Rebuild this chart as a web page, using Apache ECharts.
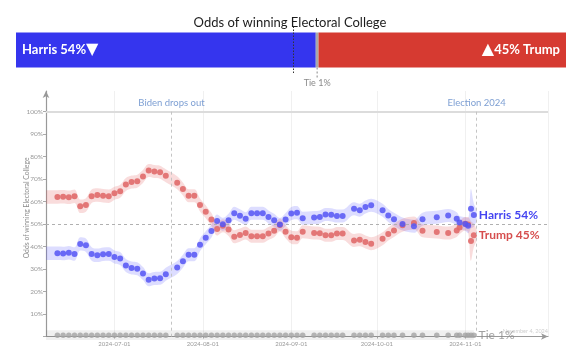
<!DOCTYPE html>
<html><head><meta charset="utf-8">
<script src="https://cdn.jsdelivr.net/npm/echarts@6/dist/echarts.min.js"></script>
<style>html,body{margin:0;padding:0;background:#fff}#c{width:580px;height:361px}</style>
</head><body><div id="c"></div>
<script>
// ---- data ----
const dates = ['2024-06-11','2024-06-13','2024-06-15','2024-06-17','2024-06-19','2024-06-21','2024-06-23','2024-06-25','2024-06-27','2024-06-29',
  '2024-07-01','2024-07-03','2024-07-05','2024-07-07','2024-07-09','2024-07-11','2024-07-13','2024-07-15','2024-07-17','2024-07-19',
  '2024-07-23','2024-07-25','2024-07-27','2024-07-29','2024-07-31',
  '2024-08-02','2024-08-04','2024-08-06','2024-08-08','2024-08-10','2024-08-12','2024-08-14','2024-08-16','2024-08-18','2024-08-20','2024-08-22','2024-08-24','2024-08-26','2024-08-28','2024-08-30',
  '2024-09-01','2024-09-03','2024-09-05','2024-09-09','2024-09-11','2024-09-13','2024-09-15','2024-09-17','2024-09-19','2024-09-23','2024-09-25','2024-09-27','2024-09-29',
  '2024-10-03','2024-10-05','2024-10-07','2024-10-10','2024-10-14','2024-10-17','2024-10-22','2024-10-26','2024-10-29','2024-10-30',
  '2024-11-01','2024-11-02','2024-11-03','2024-11-04'];
const harris = [37.0,36.9,37.3,36.7,41.2,40.6,36.7,36.1,36.6,36.7,
  35.4,34.7,31.6,30.5,30.1,28.0,25.2,25.8,25.9,27.7,
  30.7,33.5,36.4,36.4,40.8,
  43.9,46.9,51.4,49.9,51.7,54.8,53.7,52.4,54.8,54.8,54.8,53.2,51.7,49.8,52.0,
  54.7,55.1,52.6,52.9,53.2,54.3,54.1,53.6,53.6,56.8,56.2,57.6,58.4,
  56.2,53.8,52.1,50.0,49.0,52.2,53.0,53.8,52.4,50.7,
  50.0,49.3,56.8,54.0];
const trump = [62.1,62.2,61.9,62.4,57.9,58.5,62.4,62.9,62.6,62.4,
  63.7,64.6,67.6,68.7,69.1,71.2,73.8,73.4,73.1,71.5,
  68.4,65.6,62.6,62.6,58.5,
  55.5,52.0,47.8,49.3,47.6,44.4,45.1,46.0,44.6,44.6,44.6,45.8,47.0,49.6,46.6,
  44.2,43.9,46.6,46.0,45.9,45.0,45.0,45.8,45.8,42.7,43.0,42.0,41.3,
  43.5,45.6,47.2,49.5,50.5,47.0,46.5,46.0,47.2,48.5,
  50.2,49.8,42.5,45.0];
const tie = [0.6,0.6,0.6,0.6,0.6,0.6,0.6,0.6,0.6,0.6,
  0.6,0.6,0.6,0.6,0.6,0.6,0.6,0.6,0.6,0.6,
  0.6,0.6,0.6,0.6,0.6,
  0.6,0.6,0.6,0.6,0.6,0.6,0.6,0.6,0.6,0.6,0.6,0.6,0.6,0.6,0.6,
  0.6,0.6,0.6,0.6,0.6,0.6,0.6,0.6,0.6,0.6,0.6,0.6,0.6,
  0.6,0.6,0.6,0.6,0.6,0.6,0.6,0.6,0.6,0.6,
  0.6,0.6,0.6,0.6];
// half-width of the shaded uncertainty band around each point
const bandHalf = [3.0,3.0,3.0,3.0,3.0,3.0,3.0,3.0,3.0,3.0,
  2.9,2.9,2.9,2.9,2.9,2.9,2.9,2.9,2.9,2.9,
  2.9,2.9,2.9,2.9,2.9,
  2.9,2.9,2.9,2.9,2.9,2.9,2.9,2.9,2.9,2.9,2.9,2.9,2.9,2.9,2.9,
  2.9,2.9,2.9,2.9,2.9,2.9,2.9,2.9,2.9,2.9,2.9,2.9,2.9,
  2.9,2.9,2.9,2.9,2.9,2.9,2.9,2.9,2.9,2.9,
  3.0,3.4,8.8,5.2];
const tieBandHalf = 2.2;
const bandStart = '2024-06-07';
const bandEnd = '2024-11-05';
const bandEndHalf = 2.5;
const axisMin = '2024-06-07';
const axisMax = '2024-11-30';
const events = [['2024-07-21', 'Biden drops out'], ['2024-11-05', 'Election 2024']];
const endLabels = ['Harris 54%', 'Trump 45%', 'Tie 1%'];
const topShares = [54.5, 0.5, 45];
const topLabels = [['Harris 54%', '\u25BC'], ['\u25B2', '45% Trump']];
const topMarker = 50.4;
const tieTopLabel = 'Tie 1%';
const updatedLabel = 'November 4, 2024';
const titleText = 'Odds of winning Electoral College';
const yName = 'Odds of winning Electoral College';

// ---- styles ----
const FONT = 'Lato';
const BLUE = '#5555f4', RED = '#e06a6a', GRAY = '#a4a4a4';
const n = dates.length;

function band(stackName, vals, half, color, extend, endVal, clip) {
  const pts = [[bandStart, vals[0], half[0]]];
  dates.forEach((d, i) => pts.push([d, vals[i], half[i]]));
  if (extend) pts.push([bandEnd, endVal, bandEndHalf]);
  const common = {type: 'line', stack: stackName, stackStrategy: 'all', symbol: 'none', silent: true,
    smooth: 0.35, lineStyle: {opacity: 0, width: 0}, z: 1, clip: clip, xAxisIndex: 0, yAxisIndex: 0};
  return [
    Object.assign({}, common, {data: pts.map(p => [p[0], p[1] - p[2]])}),
    Object.assign({}, common, {data: pts.map(p => [p[0], 2 * p[2]]), areaStyle: {color: color, opacity: 1}})
  ];
}

const chart = echarts.init(document.getElementById('c'), null, {renderer: 'canvas'});

const endLabel = (idx, color, size) => ({
  show: true, position: 'right', distance: 2,
  formatter: p => p.dataIndex === n - 1 ? endLabels[idx] : '',
  color: color, fontSize: size, fontFamily: FONT, fontWeight: 'bold'
});

const triRich = {
  t: {color: '#fff', fontSize: 13, fontWeight: 'bold', fontFamily: FONT},
  g: {color: '#fff', fontSize: 16, fontFamily: 'DejaVu Sans', padding: [0, 0, 1, 0]}
};

const option = {
  animation: false,
  backgroundColor: '#fff',
  textStyle: {fontFamily: FONT},
  title: {text: titleText, left: 'center', top: 11,
    textStyle: {fontFamily: FONT, fontSize: 13, fontWeight: 'normal', color: '#1c1c1c'}},
  grid: [
    {left: 46, right: 32, top: 91, bottom: 24.5, outerBoundsMode: 'none', containLabel: false},
    {left: 16, right: 14, top: 27, height: 46, outerBoundsMode: 'none', containLabel: false}
  ],
  xAxis: [
    {type: 'time', gridIndex: 0, min: axisMin, max: axisMax,
      splitNumber: 5,
      axisLine: {show: true, symbol: ['none', 'arrow'], symbolSize: [5, 7], lineStyle: {color: '#999', width: 1.2}},
      axisTick: {show: true, length: 2, lineStyle: {color: '#aaa'}},
      axisLabel: {fontSize: 6, color: '#999', margin: 5, fontFamily: FONT, hideOverlap: false,
        formatter: v => echarts.format.formatTime('yyyy-MM-dd', v)},
      splitLine: {show: true, lineStyle: {color: '#f0f0f0', width: 1}},
      minorTick: {show: false}},
    {type: 'value', gridIndex: 1, min: 0, max: 100, show: false}
  ],
  yAxis: [
    {type: 'value', gridIndex: 0, min: 0, max: 109.2, interval: 10,
      axisLine: {show: true, symbol: ['none', 'arrow'], symbolSize: [5, 7], lineStyle: {color: '#999', width: 1.2}},
      axisTick: {show: true, length: 3, lineStyle: {color: '#aaa'}},
      axisLabel: {fontSize: 6.5, color: '#999', margin: 3, fontFamily: FONT, showMaxLabel: false,
        formatter: v => (v > 0 && v <= 100) ? v + '%' : ''},
      splitLine: {show: false}},
    {type: 'category', gridIndex: 1, data: ['odds'], show: false}
  ],
  series: [
    ...band('tb', tie, tie.map(() => tieBandHalf), 'rgba(0,0,0,0.06)', false, 0, false),
    ...band('hb', harris, bandHalf, 'rgba(85,85,255,0.2)', true, harris[n - 1], true),
    ...band('rb', trump, bandHalf, 'rgba(225,80,80,0.2)', true, trump[n - 1], true),
    {type: 'scatter', name: 'Tie', data: dates.map((d, i) => [d, tie[i]]), symbolSize: 5.5,
      itemStyle: {color: GRAY}, z: 3, clip: false,
      label: Object.assign(endLabel(2, '#8a8a8a', 12), {fontWeight: 'normal'})},
    {type: 'scatter', name: 'Trump', data: dates.map((d, i) => [d, trump[i]]), symbolSize: 6,
      itemStyle: {color: RED, opacity: 0.9}, z: 4, label: endLabel(1, '#d23b3b', 12)},
    {type: 'scatter', name: 'Harris', data: dates.map((d, i) => [d, harris[i]]), symbolSize: 6,
      itemStyle: {color: BLUE, opacity: 0.85}, z: 5, label: endLabel(0, '#2323ee', 12),
      markLine: {silent: true, symbol: 'none', animation: false,
        data: [
          {yAxis: 100, lineStyle: {type: 'solid', color: '#dcdcdc', width: 2}, label: {show: false}},
          {yAxis: 50, lineStyle: {type: [3, 3], color: '#b0b0b0', width: 1}, label: {show: false}},
          ...events.map(e => [
            {xAxis: e[0], yAxis: 100, lineStyle: {type: [3, 3], color: '#c4c4c4', width: 1},
              label: {show: true, position: 'start', distance: 4, formatter: e[1], color: '#7d9fd3',
                fontSize: 9.5, fontFamily: FONT}},
            {xAxis: e[0], yAxis: 0}
          ])
        ]}},
    // top summary bar
    {type: 'bar', xAxisIndex: 1, yAxisIndex: 1, stack: 'top', data: [topShares[0]], barWidth: 35,
      itemStyle: {color: '#3535ee'}, silent: true,
      label: {show: true, position: 'insideLeft', distance: 6,
        formatter: '{t|' + topLabels[0][0] + '}{g|' + topLabels[0][1] + '}', rich: triRich},
      markLine: {silent: true, symbol: 'none', data: [{xAxis: topMarker}],
        lineStyle: {type: [1.5, 1.5], color: '#333', width: 1}, label: {show: false}}},
    {type: 'bar', xAxisIndex: 1, yAxisIndex: 1, stack: 'top', data: [topShares[1]], barWidth: 35,
      itemStyle: {color: '#a9a9a9'}, silent: true},
    {type: 'bar', xAxisIndex: 1, yAxisIndex: 1, stack: 'top', data: [topShares[2]], barWidth: 35,
      itemStyle: {color: '#d63a31'}, silent: true,
      label: {show: true, position: 'insideRight', distance: 6,
        formatter: '{g|' + topLabels[1][0] + '}{t|' + topLabels[1][1] + '}', rich: triRich}}
  ]
};
chart.setOption(option);

// decorations positioned through the chart's own coordinate conversion
const tieX = chart.convertToPixel({xAxisIndex: 1}, topShares[0] + topShares[1] / 2);
const barBottom = chart.convertToPixel({yAxisIndex: 1}, 'odds') + 17.5;
const axisRight = chart.convertToPixel({xAxisIndex: 0}, axisMax);
const axisBottom = chart.convertToPixel({yAxisIndex: 0}, 0);
const axisLeft = chart.convertToPixel({xAxisIndex: 0}, axisMin);
const y50 = chart.convertToPixel({yAxisIndex: 0}, 50);
const y100 = chart.convertToPixel({yAxisIndex: 0}, 100);
chart.setOption({
  graphic: [
    {type: 'line', silent: true, shape: {x1: tieX, y1: barBottom, x2: tieX, y2: barBottom + 10},
      style: {stroke: '#888', lineWidth: 1, lineDash: [2, 2]}},
    {type: 'text', silent: true, x: tieX, y: barBottom + 16,
      style: {text: tieTopLabel, fill: '#8a8a8a', font: '9px ' + FONT, align: 'center', verticalAlign: 'middle'}},
    {type: 'text', silent: true, x: axisRight, y: axisBottom - 5,
      style: {text: updatedLabel, fill: '#cfcfcf', font: '5.5px ' + FONT, align: 'right', verticalAlign: 'middle'}},
    {type: 'text', silent: true, x: axisLeft - 19, y: (y50 + y100) / 2 + 40, rotation: Math.PI / 2,
      style: {text: yName, fill: '#8a8a8a', font: '6.8px ' + FONT, align: 'center', verticalAlign: 'middle'}}
  ]
});
</script>
</body></html>
